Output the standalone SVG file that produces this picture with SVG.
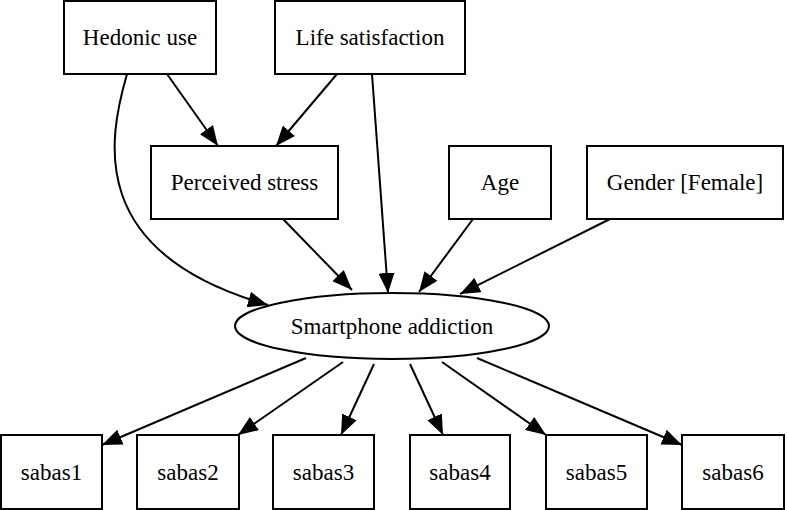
<svg xmlns="http://www.w3.org/2000/svg" width="787" height="510" viewBox="0 0 787 510">
<style>
.n{fill:#fff;stroke:#000;stroke-width:2}
.t{font-family:'Liberation Serif','Times New Roman',Times,serif;font-size:23px;fill:#000;text-anchor:middle}
.e{fill:none;stroke:#000;stroke-width:2;marker-end:url(#a)}
</style>
<defs>
<marker id="a" markerUnits="userSpaceOnUse" markerWidth="22" markerHeight="16" refX="20" refY="8" orient="auto"><path d="M0,0 L20,8 L0,16 Z" fill="#000"/></marker>
</defs>
<rect width="787" height="510" fill="#fff"/>
<g id="connectors">
<path class="e" d="M167,74 L218,146"/>
<path class="e" d="M337,74 L276,146"/>
<path class="e" d="M127,74 C108,140 86,253 268,305"/>
<path class="e" d="M372,74 L388,293"/>
<path class="e" d="M283,219 L352,290"/>
<path class="e" d="M473,219 L419,292"/>
<path class="e" d="M610,219 L460,294"/>
<path class="e" d="M306,358 L102,445"/>
<path class="e" d="M343,362 L238,435"/>
<path class="e" d="M374,364 L341,435"/>
<path class="e" d="M410,364 L443,435"/>
<path class="e" d="M442,362 L546,435"/>
<path class="e" d="M477,358 L682,445"/>
</g>
<g id="hedonic"><rect class="n" x="64" y="1" width="152" height="73"/><text class="t" x="140" y="45">Hedonic use</text></g>
<g id="life"><rect class="n" x="275" y="1" width="190" height="73"/><text class="t" x="370" y="45">Life satisfaction</text></g>
<g id="stress"><rect class="n" x="151" y="146" width="187" height="73"/><text class="t" x="244.5" y="190">Perceived stress</text></g>
<g id="age"><rect class="n" x="449" y="146" width="102" height="73"/><text class="t" x="500" y="190">Age</text></g>
<g id="gender"><rect class="n" x="587" y="146" width="196" height="73"/><text class="t" x="685" y="190">Gender [Female]</text></g>
<g id="addiction"><ellipse class="n" cx="392" cy="326" rx="157" ry="33"/><text class="t" x="392" y="334">Smartphone addiction</text></g>
<g id="sabas1"><rect class="n" x="1" y="435" width="101" height="74"/><text class="t" x="51.5" y="480">sabas1</text></g>
<g id="sabas2"><rect class="n" x="137" y="435" width="102" height="74"/><text class="t" x="188" y="480">sabas2</text></g>
<g id="sabas3"><rect class="n" x="273" y="435" width="101" height="74"/><text class="t" x="323.5" y="480">sabas3</text></g>
<g id="sabas4"><rect class="n" x="410" y="435" width="100" height="74"/><text class="t" x="460" y="480">sabas4</text></g>
<g id="sabas5"><rect class="n" x="546" y="435" width="101" height="74"/><text class="t" x="596.5" y="480">sabas5</text></g>
<g id="sabas6"><rect class="n" x="682" y="435" width="102" height="74"/><text class="t" x="733" y="480">sabas6</text></g>
</svg>
